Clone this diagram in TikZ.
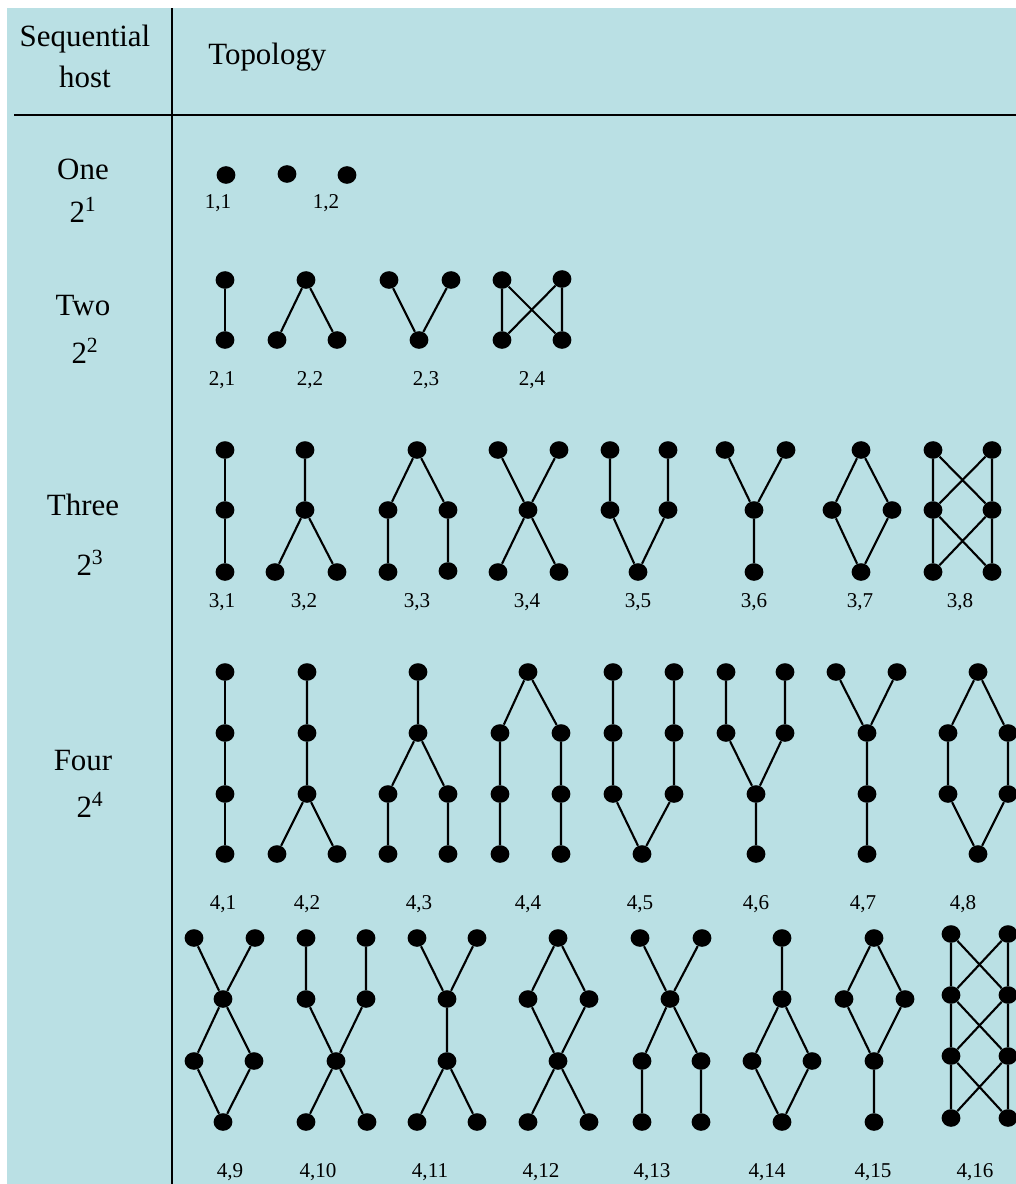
\documentclass[tikz,border=0pt]{standalone}
\usepackage{fontspec}
\setmainfont{Liberation Serif}
\usetikzlibrary{shapes.geometric}
\definecolor{bgblue}{RGB}{186,224,228}
\begin{document}
\begin{tikzpicture}[x=0.025cm,y=-0.025cm,
  dot/.style={ellipse,fill=black,inner sep=0pt,minimum width=0.47cm,minimum height=0.44cm},
  edge/.style={line width=1.5pt},
  rule/.style={line width=1.6pt},
  lab/.style={anchor=base,inner sep=0pt,font=\fontsize{15}{18}\selectfont},
  head/.style={anchor=base,inner sep=0pt,font=\fontsize{22}{26}\selectfont}]
\useasboundingbox (0,0) rectangle (1016,1184);
\fill[white] (0,0) rectangle (1016,1184);
\fill[bgblue] (7,8) rectangle (1016,1184);
% table rules
\draw[rule] (172,8) -- (172,1184);
\draw[rule] (14,115) -- (1016,115);
% headings
\node[head] (hseq) at (85,46) {Sequential};
\node[head] (hhost) at (85,87) {host};
\node[head,anchor=base west] (htop) at (208,64) {Topology};
\node[head] (hone) at (83,179) {One};
\node[head] (hone2) at (83,222) {2\textsuperscript{1}};
\node[head] (htwo) at (83,315) {Two};
\node[head] (htwo2) at (85,363) {2\textsuperscript{2}};
\node[head] (hthree) at (83,515) {Three};
\node[head] (hthree2) at (90,575) {2\textsuperscript{3}};
\node[head] (hfour) at (83,770) {Four};
\node[head] (hfour2) at (90,817) {2\textsuperscript{4}};
% ---------- row 1 ----------
\node[dot] (g11a) at (226,175) {};
\node[dot] (g12a) at (287,174) {};
\node[dot] (g12b) at (347,175) {};
\node[lab] (l11) at (218,208) {1,1};
\node[lab] (l12) at (326,208) {1,2};
% ---------- row 2 ----------
\node[dot] (g21a) at (225,280) {};
\node[dot] (g21b) at (225,340) {};
\draw[edge] (g21a) -- (g21b);
\node[dot] (g22a) at (306,280) {};
\node[dot] (g22b) at (277,340) {};
\node[dot] (g22c) at (337,340) {};
\draw[edge] (g22a) -- (g22b) (g22a) -- (g22c);
\node[dot] (g23a) at (389,280) {};
\node[dot] (g23b) at (451,280) {};
\node[dot] (g23c) at (419,340) {};
\draw[edge] (g23a) -- (g23c) (g23b) -- (g23c);
\node[dot] (g24a) at (502,280) {};
\node[dot] (g24b) at (562,279) {};
\node[dot] (g24c) at (502,340) {};
\node[dot] (g24d) at (562,340) {};
\draw[edge] (g24a) -- (g24c) (g24b) -- (g24d) (g24a) -- (g24d) (g24b) -- (g24c);
\node[lab] (l21) at (222,385) {2,1};
\node[lab] (l22) at (310,385) {2,2};
\node[lab] (l23) at (426,385) {2,3};
\node[lab] (l24) at (532,385) {2,4};
% ---------- row 3 ----------
\node[dot] (g31a) at (225,450) {};
\node[dot] (g31b) at (225,510) {};
\node[dot] (g31c) at (225,572) {};
\draw[edge] (g31a) -- (g31b) (g31b) -- (g31c);
\node[dot] (g32a) at (305,450) {};
\node[dot] (g32b) at (305,510) {};
\node[dot] (g32c) at (275,572) {};
\node[dot] (g32d) at (337,572) {};
\draw[edge] (g32a) -- (g32b) (g32b) -- (g32c) (g32b) -- (g32d);
\node[dot] (g33a) at (417,450) {};
\node[dot] (g33b) at (388,510) {};
\node[dot] (g33c) at (448,510) {};
\node[dot] (g33d) at (388,572) {};
\node[dot] (g33e) at (448,571) {};
\draw[edge] (g33a) -- (g33b) (g33a) -- (g33c) (g33b) -- (g33d) (g33c) -- (g33e);
\node[dot] (g34a) at (498,450) {};
\node[dot] (g34b) at (559,450) {};
\node[dot] (g34c) at (528,510) {};
\node[dot] (g34d) at (498,572) {};
\node[dot] (g34e) at (559,572) {};
\draw[edge] (g34a) -- (g34c) (g34b) -- (g34c) (g34c) -- (g34d) (g34c) -- (g34e);
\node[dot] (g35a) at (610,450) {};
\node[dot] (g35b) at (668,450) {};
\node[dot] (g35c) at (610,510) {};
\node[dot] (g35d) at (668,510) {};
\node[dot] (g35e) at (638,572) {};
\draw[edge] (g35a) -- (g35c) (g35b) -- (g35d) (g35c) -- (g35e) (g35d) -- (g35e);
\node[dot] (g36a) at (725,450) {};
\node[dot] (g36b) at (786,450) {};
\node[dot] (g36c) at (754,510) {};
\node[dot] (g36d) at (754,572) {};
\draw[edge] (g36a) -- (g36c) (g36b) -- (g36c) (g36c) -- (g36d);
\node[dot] (g37a) at (861,450) {};
\node[dot] (g37b) at (832,510) {};
\node[dot] (g37c) at (892,510) {};
\node[dot] (g37d) at (861,572) {};
\draw[edge] (g37a) -- (g37b) (g37a) -- (g37c) (g37b) -- (g37d) (g37c) -- (g37d);
\node[dot] (g38a) at (933,450) {};
\node[dot] (g38b) at (992,450) {};
\node[dot] (g38c) at (933,510) {};
\node[dot] (g38d) at (992,510) {};
\node[dot] (g38e) at (933,572) {};
\node[dot] (g38f) at (992,572) {};
\draw[edge] (g38a) -- (g38c) (g38c) -- (g38e) (g38b) -- (g38d) (g38d) -- (g38f)
  (g38a) -- (g38d) (g38b) -- (g38c) (g38c) -- (g38f) (g38d) -- (g38e);
\node[lab] (l31) at (222,607) {3,1};
\node[lab] (l32) at (304,607) {3,2};
\node[lab] (l33) at (417,607) {3,3};
\node[lab] (l34) at (527,607) {3,4};
\node[lab] (l35) at (638,607) {3,5};
\node[lab] (l36) at (754,607) {3,6};
\node[lab] (l37) at (860,607) {3,7};
\node[lab] (l38) at (960,607) {3,8};
% ---------- row 4 ----------
\node[dot] (g41a) at (225,672) {};
\node[dot] (g41b) at (225,733) {};
\node[dot] (g41c) at (225,794) {};
\node[dot] (g41d) at (225,854) {};
\draw[edge] (g41a) -- (g41b) (g41b) -- (g41c) (g41c) -- (g41d);
\node[dot] (g42a) at (307,672) {};
\node[dot] (g42b) at (307,733) {};
\node[dot] (g42c) at (307,794) {};
\node[dot] (g42d) at (277,854) {};
\node[dot] (g42e) at (337,854) {};
\draw[edge] (g42a) -- (g42b) (g42b) -- (g42c) (g42c) -- (g42d) (g42c) -- (g42e);
\node[dot] (g43a) at (418,672) {};
\node[dot] (g43b) at (418,733) {};
\node[dot] (g43c) at (388,794) {};
\node[dot] (g43d) at (448,794) {};
\node[dot] (g43e) at (388,854) {};
\node[dot] (g43f) at (448,854) {};
\draw[edge] (g43a) -- (g43b) (g43b) -- (g43c) (g43b) -- (g43d) (g43c) -- (g43e) (g43d) -- (g43f);
\node[dot] (g44a) at (528,672) {};
\node[dot] (g44b) at (500,733) {};
\node[dot] (g44c) at (561,733) {};
\node[dot] (g44d) at (500,794) {};
\node[dot] (g44e) at (561,794) {};
\node[dot] (g44f) at (500,854) {};
\node[dot] (g44g) at (561,854) {};
\draw[edge] (g44a) -- (g44b) (g44a) -- (g44c) (g44b) -- (g44d) (g44d) -- (g44f) (g44c) -- (g44e) (g44e) -- (g44g);
\node[dot] (g45a) at (613,672) {};
\node[dot] (g45b) at (674,672) {};
\node[dot] (g45c) at (613,733) {};
\node[dot] (g45d) at (674,733) {};
\node[dot] (g45e) at (613,794) {};
\node[dot] (g45f) at (674,794) {};
\node[dot] (g45g) at (642,854) {};
\draw[edge] (g45a) -- (g45c) (g45c) -- (g45e) (g45b) -- (g45d) (g45d) -- (g45f) (g45e) -- (g45g) (g45f) -- (g45g);
\node[dot] (g46a) at (726,672) {};
\node[dot] (g46b) at (785,672) {};
\node[dot] (g46c) at (726,733) {};
\node[dot] (g46d) at (785,733) {};
\node[dot] (g46e) at (756,794) {};
\node[dot] (g46f) at (756,854) {};
\draw[edge] (g46a) -- (g46c) (g46b) -- (g46d) (g46c) -- (g46e) (g46d) -- (g46e) (g46e) -- (g46f);
\node[dot] (g47a) at (836,672) {};
\node[dot] (g47b) at (897,672) {};
\node[dot] (g47c) at (867,733) {};
\node[dot] (g47d) at (867,794) {};
\node[dot] (g47e) at (867,854) {};
\draw[edge] (g47a) -- (g47c) (g47b) -- (g47c) (g47c) -- (g47d) (g47d) -- (g47e);
\node[dot] (g48a) at (978,672) {};
\node[dot] (g48b) at (948,733) {};
\node[dot] (g48c) at (1008,733) {};
\node[dot] (g48d) at (948,794) {};
\node[dot] (g48e) at (1008,794) {};
\node[dot] (g48f) at (978,854) {};
\draw[edge] (g48a) -- (g48b) (g48a) -- (g48c) (g48b) -- (g48d) (g48c) -- (g48e) (g48d) -- (g48f) (g48e) -- (g48f);
\node[lab] (l41) at (223,909) {4,1};
\node[lab] (l42) at (307,909) {4,2};
\node[lab] (l43) at (419,909) {4,3};
\node[lab] (l44) at (528,909) {4,4};
\node[lab] (l45) at (640,909) {4,5};
\node[lab] (l46) at (756,909) {4,6};
\node[lab] (l47) at (863,909) {4,7};
\node[lab] (l48) at (963,909) {4,8};
% ---------- row 5 ----------
\node[dot] (g49a) at (194,938) {};
\node[dot] (g49b) at (255,938) {};
\node[dot] (g49c) at (223,999) {};
\node[dot] (g49d) at (194,1061) {};
\node[dot] (g49e) at (254,1061) {};
\node[dot] (g49f) at (223,1122) {};
\draw[edge] (g49a) -- (g49c) (g49b) -- (g49c) (g49c) -- (g49d) (g49c) -- (g49e) (g49d) -- (g49f) (g49e) -- (g49f);
\node[dot] (g410a) at (306,938) {};
\node[dot] (g410b) at (366,938) {};
\node[dot] (g410c) at (306,999) {};
\node[dot] (g410d) at (366,999) {};
\node[dot] (g410e) at (336,1061) {};
\node[dot] (g410f) at (306,1122) {};
\node[dot] (g410g) at (367,1122) {};
\draw[edge] (g410a) -- (g410c) (g410b) -- (g410d) (g410c) -- (g410e) (g410d) -- (g410e) (g410e) -- (g410f) (g410e) -- (g410g);
\node[dot] (g411a) at (417,938) {};
\node[dot] (g411b) at (477,938) {};
\node[dot] (g411c) at (447,999) {};
\node[dot] (g411d) at (447,1061) {};
\node[dot] (g411e) at (417,1122) {};
\node[dot] (g411f) at (477,1122) {};
\draw[edge] (g411a) -- (g411c) (g411b) -- (g411c) (g411c) -- (g411d) (g411d) -- (g411e) (g411d) -- (g411f);
\node[dot] (g412a) at (558,938) {};
\node[dot] (g412b) at (528,999) {};
\node[dot] (g412c) at (589,999) {};
\node[dot] (g412d) at (558,1061) {};
\node[dot] (g412e) at (528,1122) {};
\node[dot] (g412f) at (589,1122) {};
\draw[edge] (g412a) -- (g412b) (g412a) -- (g412c) (g412b) -- (g412d) (g412c) -- (g412d) (g412d) -- (g412e) (g412d) -- (g412f);
\node[dot] (g413a) at (640,938) {};
\node[dot] (g413b) at (702,938) {};
\node[dot] (g413c) at (670,999) {};
\node[dot] (g413d) at (642,1061) {};
\node[dot] (g413e) at (701,1061) {};
\node[dot] (g413f) at (642,1122) {};
\node[dot] (g413g) at (701,1122) {};
\draw[edge] (g413a) -- (g413c) (g413b) -- (g413c) (g413c) -- (g413d) (g413c) -- (g413e) (g413d) -- (g413f) (g413e) -- (g413g);
\node[dot] (g414a) at (782,938) {};
\node[dot] (g414b) at (782,999) {};
\node[dot] (g414c) at (752,1061) {};
\node[dot] (g414d) at (812,1061) {};
\node[dot] (g414e) at (782,1122) {};
\draw[edge] (g414a) -- (g414b) (g414b) -- (g414c) (g414b) -- (g414d) (g414c) -- (g414e) (g414d) -- (g414e);
\node[dot] (g415a) at (874,938) {};
\node[dot] (g415b) at (844,999) {};
\node[dot] (g415c) at (905,999) {};
\node[dot] (g415d) at (874,1061) {};
\node[dot] (g415e) at (874,1122) {};
\draw[edge] (g415a) -- (g415b) (g415a) -- (g415c) (g415b) -- (g415d) (g415c) -- (g415d) (g415d) -- (g415e);
\node[dot] (g416a1) at (951,934) {};
\node[dot] (g416a2) at (951,995) {};
\node[dot] (g416a3) at (951,1056) {};
\node[dot] (g416a4) at (951,1118) {};
\node[dot] (g416b1) at (1008,934) {};
\node[dot] (g416b2) at (1008,995) {};
\node[dot] (g416b3) at (1008,1056) {};
\node[dot] (g416b4) at (1008,1118) {};
\draw[edge] (g416a1) -- (g416a2) (g416a2) -- (g416a3) (g416a3) -- (g416a4)
  (g416b1) -- (g416b2) (g416b2) -- (g416b3) (g416b3) -- (g416b4)
  (g416a1) -- (g416b2) (g416b1) -- (g416a2)
  (g416a2) -- (g416b3) (g416b2) -- (g416a3)
  (g416a3) -- (g416b4) (g416b3) -- (g416a4);
\node[lab] (l49) at (230,1177) {4,9};
\node[lab] (l410) at (318,1177) {4,10};
\node[lab] (l411) at (430,1177) {4,11};
\node[lab] (l412) at (541,1177) {4,12};
\node[lab] (l413) at (652,1177) {4,13};
\node[lab] (l414) at (767,1177) {4,14};
\node[lab] (l415) at (873,1177) {4,15};
\node[lab] (l416) at (975,1177) {4,16};
\end{tikzpicture}
\end{document}
